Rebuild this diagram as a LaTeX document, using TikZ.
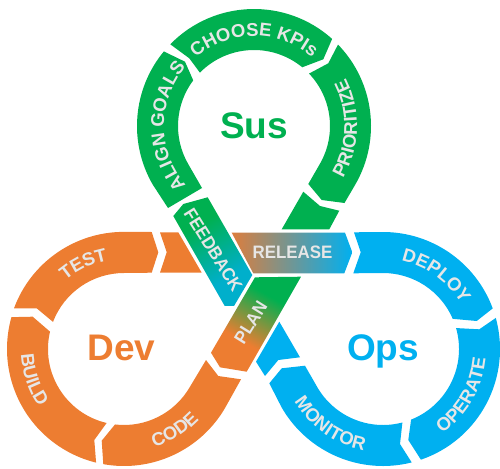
\documentclass[tikz,border=0pt]{standalone}
\usepackage{fontspec}
\setmainfont{Liberation Sans}
\newfontfamily\labfont[FakeStretch=0.94]{Liberation Sans}
\newfontfamily\curvefont{Liberation Sans}
\usetikzlibrary{calc,decorations.text}
\definecolor{susgreen}{HTML}{00B050}
\definecolor{devorange}{HTML}{ED7D31}
\definecolor{opsblue}{HTML}{00B0F0}
\definecolor{labgray}{HTML}{E6E6E6}
\definecolor{fbteal}{HTML}{00AFCB}
\pgfdeclarehorizontalshading{planfade}{100bp}{color(0bp)=(devorange); color(38bp)=(devorange); color(62bp)=(susgreen); color(100bp)=(susgreen)}
\pgfdeclarehorizontalshading{feedfade}{100bp}{color(0bp)=(susgreen); color(36bp)=(susgreen); color(64bp)=(fbteal); color(100bp)=(fbteal)}
\tikzset{
  susseg/.style={fill=susgreen},
  devseg/.style={fill=devorange},
  opsseg/.style={fill=opsblue},
  straightlabel/.style={text=labgray,font=\labfont\bfseries\fontsize{18}{18}\selectfont,inner sep=0pt},
  hublabel/.style={font=\bfseries\fontsize{37}{37}\selectfont,anchor=base,inner sep=0pt},
  curvelabel/.style={decorate,decoration={text along path,text align=center,
     text={|\curvefont\bfseries\fontsize{18.5}{18.5}\selectfont\color{labgray}|#1}}},
}
\begin{document}
\begin{tikzpicture}[x=1pt,y=-1pt]
\useasboundingbox (0,0) rectangle (500,468);
\coordinate (S) at (254,126);
\coordinate (D) at (124,349);
\coordinate (O) at (383,349);
\def\Ro{117}
\def\Ri{76}
% --- Sus ring
\fill[susseg] ($(S)+(224.3:\Ro)$) arc[start angle=224.3,end angle=311.9,radius=\Ro]
  -- (323.3,59.3) -- ($(S)+(309.4:\Ri)$) arc[start angle=309.4,end angle=224.6,radius=\Ri]
  -- (189.3,58.3) -- cycle;
\fill[susseg] ($(S)+(150:\Ro)$) arc[start angle=150,end angle=219.6,radius=\Ro]
  -- (185,61.7) -- ($(S)+(216.9:\Ri)$) arc[start angle=216.9,end angle=150,radius=\Ri]
  -- (202,188) -- (168,208) -- cycle;
\fill[susseg] ($(S)+(315.9:\Ro)$) arc[start angle=315.9,end angle=390,radius=\Ro]
  -- (344.5,203) -- (321.7,200) -- (308.3,184) -- ($(S)+(30:\Ri)$)
  arc[start angle=30,end angle=-43.6,radius=\Ri] -- (328.3,63.3) -- cycle;
\fill[susseg] (303.3,191.7) -- (320,206) -- (339.3,210.7) -- (329.3,229.3) -- (281.7,229.3) -- cycle;
% --- Dev ring
\fill[devseg] (14,308.3) arc[start angle=200.3,end angle=270,radius=\Ro]
  -- (151.7,232) -- (158.3,252.3) -- (151.7,272.7) -- (124,273)
  arc[start angle=270,end angle=200.9,radius=\Ri] -- (36.7,308.3) -- cycle;
\fill[devseg] ($(D)+(195.8:\Ro)$) arc[start angle=195.8,end angle=103.8,radius=\Ro]
  -- (94.3,440) -- ($(D)+(103.2:\Ri)$) arc[start angle=103.2,end angle=193.2,radius=\Ri]
  -- (32.7,316.7) -- cycle;
\fill[devseg] ($(D)+(100.2:\Ro)$) arc[start angle=100.2,end angle=30,radius=\Ro]
  -- (241,379.3) -- (218.3,376) -- (206,360) -- ($(D)+(30:\Ri)$)
  arc[start angle=30,end angle=96.8,radius=\Ri] -- (101.7,440.7) -- cycle;
\fill[devseg] (160,232.3) -- (178.3,232.3) -- (201.7,272.7) -- (160,272.7) -- (166.7,252.3) -- cycle;
% --- Ops ring
\fill[opsseg] (354,232.3) -- (383,232) arc[start angle=270,end angle=339.7,radius=\Ro]
  -- (476.7,321) -- ($(O)+(336.6:\Ri)$) arc[start angle=336.6,end angle=270,radius=\Ri]
  -- (353.3,273.3) -- (360.7,252.3) -- cycle;
\fill[opsseg] ($(O)+(344.6:\Ro)$) arc[start angle=344.6,end angle=431.1,radius=\Ro]
  -- (408.3,440) -- ($(O)+(68.3:\Ri)$) arc[start angle=68.3,end angle=-16,radius=\Ri]
  -- (479.3,329.3) -- cycle;
\fill[opsseg] (269.3,383.3) -- (281.7,368.3) -- (305,365.7) -- ($(O)+(150:\Ri)$)
  arc[start angle=150,end angle=75.2,radius=\Ri] -- (400,444)
  -- ($(O)+(75.8:\Ro)$) arc[start angle=75.8,end angle=150,radius=\Ro] -- cycle;
\fill[opsseg] (279.3,321.7) -- (300,357.3) -- (278.3,360) -- (265,376) -- (256,361.7) -- cycle;
% --- Crossing bands
\shade[left color=devorange!85!gray,middle color=gray!70!opsblue,right color=opsblue]
  (231.7,232.7) -- (345,232.7) -- (352.3,252.3) -- (344.3,273.3) -- (253.3,273.3) -- cycle;
\begin{scope}
  \clip (173.3,216) -- (183.3,204) -- (207.7,197.3) -- (252.3,275) -- (229.3,314) -- cycle;
  \shade[shading=feedfade,shading angle=-60] (160,195) rectangle (270,305);
\end{scope}
\begin{scope}
  \clip (255,277.3) -- (301,276.7) -- (246.7,371.7) -- (220,367.3) -- (211,352.7) -- cycle;
  \shade[shading=planfade,shading angle=60] (207,267) rectangle (317,377);
\end{scope}
% --- Curved labels
\path[curvelabel={CHOOSE KPIs}] ($(S)+(224:90)$) arc[start angle=224,end angle=316,radius=90];
\path[curvelabel={ALIGN GOALS}] ($(S)+(135:90)$) arc[start angle=135,end angle=225,radius=90];
\path[curvelabel={PRIORITIZE}] ($(S)+(40:103)$) arc[start angle=40,end angle=-37,radius=103];
\path[curvelabel={TEST}] ($(D)+(214:90)$) arc[start angle=214,end angle=275,radius=90];
\path[curvelabel={BUILD}] ($(D)+(190:103)$) arc[start angle=190,end angle=133,radius=103];
\path[curvelabel={CODE}] ($(D)+(88:103)$) arc[start angle=88,end angle=28,radius=103];
\path[curvelabel={MONITOR}] ($(O)+(165:103)$) arc[start angle=165,end angle=85,radius=103];
\path[curvelabel={OPERATE}] ($(O)+(65:103)$) arc[start angle=65,end angle=-5,radius=103];
\path[curvelabel={DEPLOY}] ($(O)+(275:90)$) arc[start angle=275,end angle=337,radius=90];
% --- Straight labels
\node[straightlabel] (release) at (292.5,252) {RELEASE};
\node[straightlabel,rotate=-58] (feedback) at (213.3,250) {FEEDBACK};
\node[straightlabel,rotate=58] (plan) at (250.7,322.7) {PLAN};
% --- Hub labels
\node[hublabel,text=susgreen] (sus) at (254,139) {Sus};
\node[hublabel,text=devorange] (dev) at (121.5,360.5) {Dev};
\node[hublabel,text=opsblue] (ops) at (383,360) {Ops};
\end{tikzpicture}
\end{document}
